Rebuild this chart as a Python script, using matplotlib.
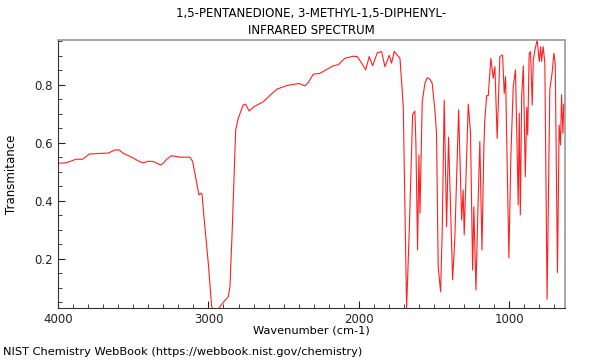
import matplotlib
matplotlib.use("Agg")
import matplotlib.pyplot as plt
from matplotlib.ticker import MultipleLocator

title_lines = ["1,5-PENTANEDIONE, 3-METHYL-1,5-DIPHENYL-", "INFRARED SPECTRUM"]
x_label = "Wavenumber (cm-1)"
y_label = "Transmitance"
footer = "NIST Chemistry WebBook (https://webbook.nist.gov/chemistry)"

wavenumber = [
    4000, 3942, 3880, 3836, 3792, 3721, 3666, 3621, 3593, 3566, 3510, 3455, 3433,
    3400, 3367, 3318, 3300, 3278, 3245, 3189, 3123, 3105, 3078, 3063, 3052, 3043,
    3030, 3001, 2979, 2960, 2940, 2923, 2897, 2868, 2857, 2842, 2819, 2802, 2769,
    2753, 2729, 2698, 2636, 2547, 2480, 2397, 2359, 2337, 2303, 2259, 2171, 2137,
    2093, 2038, 2011, 1982, 1955, 1931, 1909, 1878, 1849, 1827, 1798, 1783, 1765,
    1749, 1727, 1705, 1683, 1665, 1643, 1628, 1621, 1610, 1601, 1594, 1579, 1561,
    1546, 1528, 1513, 1495, 1484, 1473, 1457, 1446, 1433, 1417, 1404, 1377, 1362,
    1337, 1317, 1307, 1300, 1273, 1258, 1244, 1236, 1222, 1210, 1196, 1182, 1169,
    1163, 1151, 1140, 1123, 1107, 1096, 1081, 1063, 1045, 1034, 1025, 1003, 990,
    974, 959, 941, 934, 927, 918, 907, 894, 884, 878, 868, 859, 848, 841, 830,
    815, 801, 792, 786, 775, 764, 753, 749, 737, 731, 716, 704, 695, 680, 669,
    660, 653, 644, 638, 630,
]
transmittance = [
    0.530, 0.532, 0.544, 0.544, 0.562, 0.564, 0.565, 0.576, 0.576, 0.564, 0.551, 0.535, 0.532,
    0.537, 0.536, 0.524, 0.530, 0.544, 0.556, 0.551, 0.551, 0.536, 0.461, 0.421, 0.427, 0.424,
    0.346, 0.185, 0.036, 0.020, 0.020, 0.036, 0.053, 0.070, 0.105, 0.300, 0.645, 0.685, 0.731,
    0.734, 0.710, 0.725, 0.742, 0.785, 0.798, 0.805, 0.797, 0.808, 0.837, 0.840, 0.866, 0.870,
    0.892, 0.899, 0.898, 0.875, 0.852, 0.898, 0.866, 0.911, 0.915, 0.863, 0.902, 0.875, 0.916,
    0.905, 0.892, 0.725, 0.030, 0.300, 0.697, 0.710, 0.599, 0.231, 0.559, 0.358, 0.742, 0.806,
    0.825, 0.820, 0.806, 0.714, 0.633, 0.173, 0.087, 0.300, 0.748, 0.311, 0.620, 0.128, 0.277,
    0.714, 0.334, 0.438, 0.283, 0.734, 0.633, 0.162, 0.380, 0.093, 0.350, 0.605, 0.231, 0.593,
    0.679, 0.763, 0.763, 0.892, 0.823, 0.863, 0.616, 0.898, 0.903, 0.771, 0.829, 0.204, 0.553,
    0.794, 0.852, 0.386, 0.702, 0.352, 0.760, 0.866, 0.484, 0.723, 0.628, 0.909, 0.915, 0.731, 0.884, 0.921,
    0.955, 0.881, 0.932, 0.881, 0.932, 0.875, 0.300, 0.061, 0.530, 0.783, 0.840, 0.909, 0.875, 0.153, 0.662,
    0.593, 0.766, 0.633, 0.734, 0.720,
]

fig = plt.figure(figsize=(6, 3.6), dpi=100)
ax = fig.add_axes([58/600, 1-308/360, (565-58)/600, (308-40)/360])
ax.plot(wavenumber, transmittance, color="#ff2020", lw=0.8)
ax.set_xlim(4000, 630)
ax.set_ylim(0.031, 0.955)

ax.xaxis.set_major_locator(MultipleLocator(1000))
ax.xaxis.set_minor_locator(MultipleLocator(100))
ax.yaxis.set_major_locator(MultipleLocator(0.2))
ax.yaxis.set_minor_locator(MultipleLocator(0.05))
ax.tick_params(which="both", direction="in", top=False, right=False, labelsize=8.5, colors="#222222")
ax.tick_params(which="major", length=5, width=0.8)
ax.tick_params(which="minor", length=3, width=0.6)
ax.set_xticks([4000, 3000, 2000, 1000])
ax.set_xticklabels(["4000", "3000", "2000", "1000"])
ax.set_yticks([0.2, 0.4, 0.6, 0.8])
ax.set_yticklabels(["0.2", "0.4", "0.6", "0.8"])
for s in ("top", "right"):
    ax.spines[s].set_color("#999999")
    ax.spines[s].set_linewidth(1.2)
for s in ("left", "bottom"):
    ax.spines[s].set_color("#333333")
    ax.spines[s].set_linewidth(0.8)

ax.set_xlabel(x_label, fontsize=8.2, labelpad=0)
ax.set_ylabel(y_label, fontsize=8.5, labelpad=12)
fig.text(311/600, 1-13/360, title_lines[0], ha="center", va="center", fontsize=8.5)
fig.text(311/600, 1-30/360, title_lines[1], ha="center", va="center", fontsize=8.5)
fig.text(3/600, 1-352/360, footer, ha="left", va="center", fontsize=8.2)

fig.savefig("out.png", dpi=100)
